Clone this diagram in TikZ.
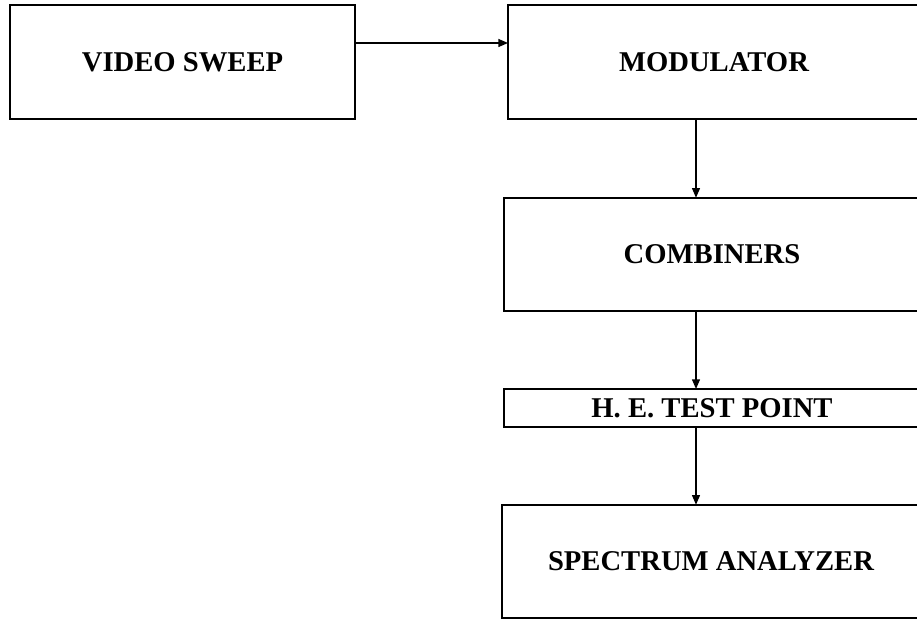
\documentclass[tikz,border=0pt]{standalone}
\usepackage{fontspec}
\setmainfont{Liberation Serif}
\usetikzlibrary{arrows.meta}

\begin{document}
\begin{tikzpicture}[x=0.02cm, y=-0.02cm,
		box/.style={draw, line width=1.1pt, inner sep=0pt, outer sep=0pt,
			minimum height=2.27cm, font=\fontsize{16.3}{19}\selectfont\bfseries},
		feedline/.style={line width=0.8pt, -{Triangle[length=5.5pt,width=4.5pt]}}]
			
			% page area (boxes on the right run off the edge)
			\clip (0,0) rectangle (917,621);
			
			% Video sweep and modulator
			\node[box, minimum width=6.9cm] (videosweep) at (182.5,62) {VIDEO SWEEP};
			\node[box, minimum width=8.24cm] (modulator) at (714,62) {MODULATOR};
			
			% Combiners
			\node[box, minimum width=8.32cm] (combiners) at (712,254.5) {COMBINERS};
			
			% Test point strip
			\node[box, minimum width=8.32cm, minimum height=0.76cm] (testpoint) at (712,408) {H. E. TEST POINT};
			
			% Spectrum analyzer
			\node[box, minimum width=8.36cm] (analyzer) at (711,561.5) {SPECTRUM ANALYZER};
			
			% where the lines run
			\coordinate (feed) at (0,43);
			\coordinate (spine) at (696,0);
			
			% Connecting lines
			\draw[feedline] (videosweep.east |- feed) -- (modulator.west |- feed);
			\draw[feedline] (modulator.south -| spine) -- (combiners.north -| spine);
			\draw[feedline] (combiners.south -| spine) -- (testpoint.north -| spine);
			\draw[feedline] (testpoint.south -| spine) -- (analyzer.north -| spine);
			
		\end{tikzpicture}
\end{document}
